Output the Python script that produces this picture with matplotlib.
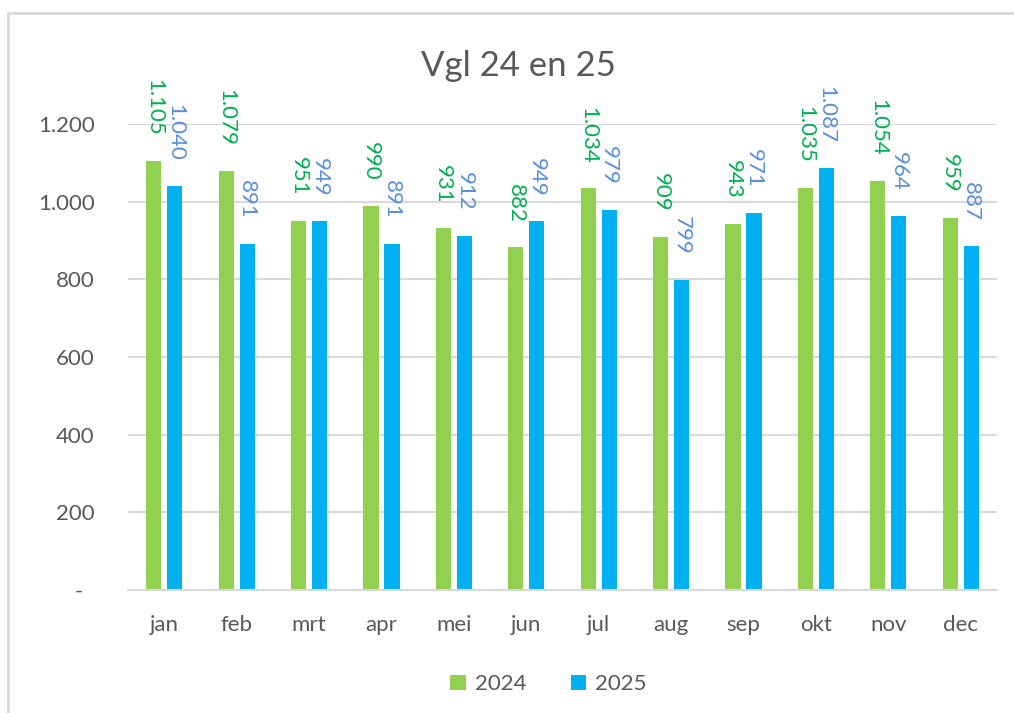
import numpy as np
import matplotlib.pyplot as plt
from matplotlib.patches import Rectangle
from matplotlib.ticker import FuncFormatter

months = ['jan', 'feb', 'mrt', 'apr', 'mei', 'jun', 'jul', 'aug', 'sep', 'okt', 'nov', 'dec']
vals_2024 = [1105, 1079, 951, 990, 931, 882, 1034, 909, 943, 1035, 1054, 959]
vals_2025 = [1040, 891, 949, 891, 912, 949, 979, 799, 971, 1087, 964, 887]
series_names = ['2024', '2025']

plt.rcParams['font.family'] = ['Lato', 'DejaVu Sans']

bar_green = '#92D050'
bar_blue = '#00B0F0'
txt_green = '#00B050'
txt_blue = '#5B8FD9'
grey = '#595959'


def nl_fmt(v, pos=None):
    if v == 0:
        return '-  '
    return '{:,.0f}'.format(v).replace(',', '.')


fig = plt.figure(figsize=(10.14, 7.13), dpi=100)
ax = fig.add_axes([128 / 1014, 1 - 590 / 713, (997 - 128) / 1014, (590 - 124) / 713])

x = np.arange(len(months))
w = 0.21
off = 0.145
b1 = ax.bar(x - off, vals_2024, w, color=bar_green, label=series_names[0], zorder=2)
b2 = ax.bar(x + off, vals_2025, w, color=bar_blue, label=series_names[1], zorder=2)

# rotated value labels above the bars
for bars, vals, col in [(b1, vals_2024, txt_green), (b2, vals_2025, txt_blue)]:
    for rect, v in zip(bars, vals):
        ax.annotate(nl_fmt(v), (rect.get_x() + rect.get_width() / 2, v),
                    xytext=(0, 18), textcoords='offset points',
                    rotation=-90, ha='center', va='bottom',
                    fontsize=16, color=col, annotation_clip=False)

ax.set_xlim(-0.5, len(months) - 0.5)
ax.set_ylim(0, 1200)
ax.set_yticks(np.arange(0, 1201, 200))
ax.yaxis.set_major_formatter(FuncFormatter(nl_fmt))
ax.set_xticks(x)
ax.set_xticklabels(months)
ax.tick_params(axis='both', length=0, labelsize=16, labelcolor=grey)
ax.xaxis.set_tick_params(pad=18)
ax.yaxis.set_tick_params(pad=24)
ax.grid(axis='y', color='#D9D9D9', linewidth=1.5, zorder=0)
for s in ['top', 'right', 'left']:
    ax.spines[s].set_visible(False)
ax.spines['bottom'].set_color('#D9D9D9')
ax.spines['bottom'].set_linewidth(1.5)

fig.suptitle('Vgl 24 en 25', x=0.511, y=0.93, fontsize=25, color=grey)

fig.legend(handles=[b1, b2], labels=series_names, loc='center', bbox_to_anchor=(0.541, 0.04),
           ncol=2, frameon=False, fontsize=16, labelcolor=grey, handlelength=0.7,
           handleheight=0.7, handletextpad=0.4, columnspacing=2.0)

fig.patches.append(Rectangle((8 / 1014, -0.05), 1.1, 1 - 13 / 713 + 0.05,
                             transform=fig.transFigure, fill=False,
                             edgecolor='#D9D9D9', linewidth=2))

fig.savefig('out.png', dpi=100)
